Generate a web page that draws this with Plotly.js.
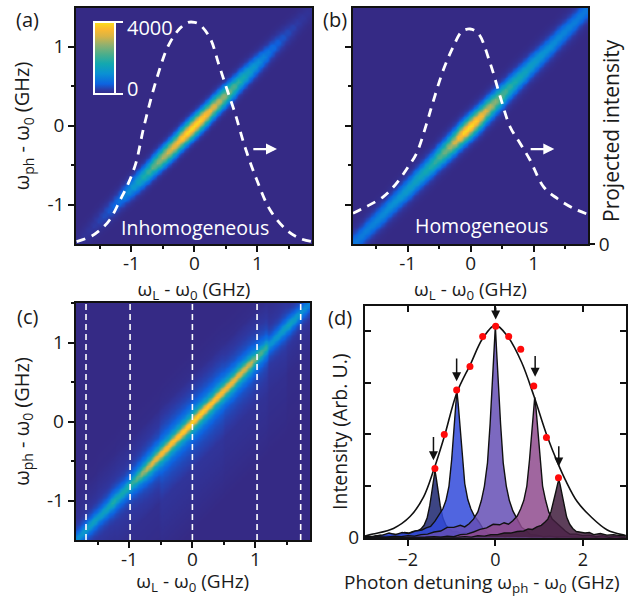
<!DOCTYPE html>
<html><head><meta charset="utf-8">
<script src="https://cdn.plot.ly/plotly-3.0.1.min.js"></script>
<style>html,body{margin:0;padding:0;background:#fff}#p{width:636px;height:596px}</style>
</head><body><div id="p"></div>
<script>
// --- heat-map ridges: intensity read along the diagonal of each map
const ridgeA=[80,100,130,170,220,290,370,470,590,730,900,1080,1290,1530,1800,2080,2380,2680,2950,3200,3420,3620,3850,3980,4000,3950,3780,3560,3320,3060,2780,2500,2230,1970,1720,1500,1300,1120,950,800,660,540,440,350,280,220,170,130,100];
const ridgeB=[800,830,860,900,940,980,1030,1080,1130,1190,1250,1320,1390,1470,1560,1680,1820,2000,2230,2500,2850,3250,3650,3950,4000,3850,3600,3300,3000,2700,2400,2150,1950,1780,1650,1530,1430,1340,1260,1190,1130,1070,1020,980,940,900,870,840,810];
const ridgeC=[1000,1150,1250,1350,1450,1300,1400,1500,1750,1550,1600,1700,1950,2300,2700,3050,3300,3400,3450,3500,3550,3600,3650,3700,3750,3750,3700,3650,3600,3550,3500,3450,3400,3300,3200,3100,2950,2400,2100,1850,1100,1150,1200,1300,1500,1350,1200,1050,950];
// cross-diagonal profiles, one entry per half grid step away from the ridge
const profileA=[1,.93,.76,.56,.37,.22,.11,.05,.02,.005];
const profileB=[1,.94,.78,.6,.42,.27,.16,.09,.05,.025,.01,.004];
const profileC=[1,.88,.62,.42,.3,.22,.16,.12,.09,.07,.06,.05,.04,.035,.03,.025,.02,.015,.01];
// panel (c): slowly varying pedestal per scan column
const pedestalC=[60,60,60,60,60,100,100,100,100,130,130,130,130,130,130,130,130,130,250,250,250,250,250,250,250,250,250,250,250,250,250,200,200,200,200,200,200,200,200,200,130,130,130,130,60,60,60,60,60];
const pedestalUp=[1,.95,.9,.85,.8,.7,.6,.5,.4,.3,.22,.15,.1,.06,.03,.01];
const pedestalDown=[1,.97,.95,.9,.88,.85,.8,.75,.7,.65,.6,.55,.5,.45,.4,.35,.3,.25,.2,.15,.1,.05];
// dashed projected-intensity curves
const curveAx=[-1.87,-1.63,-1.47,-1.34,-1.18,-1.05,-.93,-.8,-.6,-.41,-.23,-.1,0,.09,.25,.38,.51,.645,.8,.99,1.2,1.46,1.67,1.86];
const curveAy=[.01,.034,.066,.104,.186,.257,.343,.5,.7,.843,.914,.939,.939,.928,.871,.766,.66,.553,.412,.271,.144,.06,.024,.01];
const curveBx=[-1.87,-1.66,-1.39,-1.2,-.99,-.86,-.7,-.62,-.435,-.276,-.14,-.01,.12,.31,.47,.626,.785,.944,1.157,1.37,1.634,1.86];
const curveBy=[.13,.158,.2,.25,.328,.384,.51,.582,.737,.836,.9,.911,.893,.766,.624,.497,.427,.356,.243,.194,.151,.126];
// panel (c) laser positions
const laserLines=[-1.69,-.99,0,1.027,1.72];
// panel (d)
const envX=[-3,-2.8,-2.33,-1.95,-1.64,-1.41,-1.17,-.88,-.57,-.29,0,.29,.6,.88,1.17,1.44,1.6,1.87,2.18,2.56,2.94,3];
const envY=[.03,.07,.18,.41,.79,1.31,1.95,2.81,3.36,3.86,4.12,3.89,3.4,2.75,2,1.42,1.12,.7,.41,.15,.05,.04];
const dotX=[-1.382,-1.168,-.885,-.58,-.29,.008,.305,.58,.878,1.168,1.443];
const dotY=[1.34,2.0,2.86,3.32,3.9,4.1,3.9,3.65,2.94,1.94,1.16];
const arrowX=[-1.415,-.885,.008,.91,1.45];
const arrowTail=[1.98,3.5,4.49,3.55,1.8];
const arrowTip=[1.5,3.03,4.23,3.12,1.38];
const peakCenters=[-1.38,-.88,0,.9,1.45];
const offsets=[-4.6,-4.2,-3.9,-3.6,-3.3,-3.1,-2.9,-2.7,-2.5,-2.3,-2.15,-2,-1.85,-1.7,-1.55,-1.4,-1.25,-1.1,-.95,-.8,-.7,-.6,-.5,-.4,-.32,-.25,-.18,-.12,-.07,-.03,0,.03,.07,.12,.18,.25,.32,.4,.5,.6,.7,.8,.95,1.1,1.25,1.4,1.55,1.7,1.85,2,2.15,2.3,2.5,2.7,2.9,3.1,3.3,3.6,3.9,4.2,4.6];
const spec1=[0,0,0,0,0,0,0,0,0,0,0,0,0,.01,.03,.02,.05,.04,.07,.06,.1,.09,.12,.13,.17,.24,.38,.62,.9,1.15,1.3,1.15,.9,.62,.38,.24,.18,.12,.12,.08,.1,.06,.07,.05,.06,.03,.05,.02,.04,.02,.03,.01,.02,.01,.01,0,0,0,0,0,0];
const spec2=[0,0,0,0,0,0,0,0,0,0,.02,.01,.04,.05,.09,.06,.1,.08,.13,.15,.19,.22,.32,.44,.56,.72,1,1.5,2.1,2.6,2.85,2.6,2.15,1.55,1.05,.74,.56,.42,.31,.17,.09,.05,.05,.02,.04,.02,.03,.01,.02,.01,.01,.01,0,0,0,0,0,0,0,0,0];
const spec3=[0,0,0,0,0,0,.01,.02,.01,.03,.02,.04,.03,.06,.07,.11,.13,.2,.2,.24,.21,.27,.36,.5,.72,1,1.45,2.2,2.95,3.6,4.1,3.6,2.95,2.2,1.45,1,.72,.52,.36,.2,.14,.06,.05,.02,.03,.01,.02,.01,0,0,0,0,0,0,0,0,0,0,0,0,0];
const spec4=[0,0,0,0,0,0,0,0,.01,.02,.01,.03,.02,.06,.07,.11,.16,.19,.26,.25,.29,.26,.33,.42,.56,.72,1,1.5,2.05,2.5,2.72,2.5,2.05,1.5,1,.72,.5,.36,.28,.2,.13,.07,.07,.04,.05,.02,.04,.01,.03,.01,.02,0,0,0,0,0,0,0,0,0,0];
const spec5=[0,0,0,0,0,0,0,0,0,.01,.02,.01,.04,.03,.06,.06,.09,.09,.12,.13,.17,.16,.21,.24,.3,.36,.5,.68,.88,1.03,1.13,1.03,.85,.62,.4,.26,.18,.12,.11,.09,.1,.06,.08,.05,.06,.04,.04,.02,.02,.01,0,0,0,0,0,0,0,0,0,0,0];
const specColors=['rgba(27,36,111,.85)','rgba(49,74,219,.85)','rgba(101,79,181,.85)','rgba(143,75,142,.85)','rgba(65,29,61,.85)'];
// tick labels
const heatTicks=[-1,0,1], heatLabels=['-1','0','1'], heatMinor=[-1.5,-.5,.5,1.5];
const dTicks=[-2,0,2], dLabels=['\u22122','0','2'];
const dYTicks=[0,1,2,3,4], dYLabels=['0','','','',''];
const colorStops=[[0,'#352a85'],[.05,'#2f37a0'],[.14,'#0d63e0'],[.28,'#0a90d4'],[.42,'#12a8b0'],[.55,'#4aae8c'],[.68,'#8fb070'],[.8,'#d8b445'],[.9,'#fdb92f'],[1,'#fae01c']];

const W=636,H=596,FONT='"Open Sans","Noto Sans",sans-serif',TXT='#1a1a1a';
const dx=(l,r)=>[l/W,r/W], dy=(t,b)=>[1-b/H,1-t/H];
const N=ridgeA.length,S=2,M=(N-1)*S+1;
function simpleMap(r,p){const z=[];for(let j=0;j<M;j++){const row=[];for(let i=0;i<M;i++){const d=Math.abs(i-j);row.push(d<p.length?r[Math.round((i+j)/2/S)]*p[d]:0);}z.push(row);}return z;}
function mapC(){const z=[];for(let j=0;j<M;j++){const row=[];for(let i=0;i<M;i++){const d=Math.abs(i-j),h=Math.floor(d/S),col=Math.round(i/S);const b=j<i?pedestalDown:pedestalUp;
 row.push((d<profileC.length?ridgeC[col]*profileC[d]:0)+(h<b.length?pedestalC[col]*b[h]:0));}z.push(row);}return z;}
function heat(z,x0,x1,y0,y1,xa,ya,extra){return Object.assign({type:'heatmap',z,x0,dx:(x1-x0)/(M-1),y0,dy:(y1-y0)/(M-1),xaxis:xa,yaxis:ya,zmin:0,zmax:4000,zsmooth:'best',colorscale:colorStops,showscale:false,hoverinfo:'skip'},extra||{});}
const heatAxisX=(d,r,standoff)=>({domain:d,range:r,tickmode:'array',tickvals:heatTicks,ticktext:heatLabels,ticks:'outside',ticklen:6,tickwidth:1.5,tickcolor:'#111',ticklabelstandoff:-5,showline:true,linecolor:'#111',linewidth:1.5,mirror:true,showgrid:false,zeroline:false,tickfont:{size:19,color:TXT},minor:{tickvals:heatMinor,ticks:'outside',ticklen:3,tickwidth:1.5,tickcolor:'#111',showgrid:false},title:{text:'ω<sub>L</sub> - ω<sub>0</sub> (GHz)',font:{size:19,color:TXT},standoff}});
const heatAxisY=(d,r,anchor,labels,title)=>({domain:d,range:r,anchor,tickmode:'array',tickvals:heatTicks,ticktext:heatLabels,showticklabels:labels,ticks:'outside',ticklen:6,tickwidth:1.5,tickcolor:'#111',showline:true,linecolor:'#111',linewidth:1.5,mirror:true,showgrid:false,zeroline:false,tickfont:{size:19,color:TXT},minor:{tickvals:heatMinor,ticks:'outside',ticklen:3,tickwidth:1.5,tickcolor:'#111',showgrid:false},title:title?{text:'ω<sub>ph</sub> - ω<sub>0</sub> (GHz)',font:{size:20,color:TXT},standoff:12}:undefined});

const traces=[
 heat(simpleMap(ridgeA,profileA),-1.88,1.865,-1.497,1.49,'x','y',{showscale:true,colorbar:{x:94/W,xanchor:'left',y:1-94/H,yanchor:'bottom',len:72.3/H,lenmode:'fraction',thickness:21,thicknessmode:'pixels',xpad:0,ypad:0,outlinecolor:'#fff',outlinewidth:2,ticks:'outside',ticklen:7,tickcolor:'#fff',tickwidth:2,tickmode:'array',tickvals:[0,4000],showticklabels:false}}),
 {type:'scatter',mode:'lines',x:curveAx,y:curveAy,xaxis:'x',yaxis:'y2',line:{color:'#fff',width:2.8,dash:'9px,7px',shape:'spline'},hoverinfo:'skip'},
 heat(simpleMap(ridgeB,profileB),-1.87,1.865,-1.497,1.49,'x2','y3'),
 {type:'scatter',mode:'lines',x:curveBx,y:curveBy,xaxis:'x2',yaxis:'y4',line:{color:'#fff',width:2.8,dash:'9px,7px',shape:'spline'},hoverinfo:'skip'},
 heat(mapC(),-1.857,1.868,-1.497,1.5,'x3','y5')
];
laserLines.forEach(v=>traces.push({type:'scatter',mode:'lines',x:[v,v],y:[-1.497,1.5],xaxis:'x3',yaxis:'y5',line:{color:'#fff',width:1.6,dash:'6px,4px'},hoverinfo:'skip'}));
[spec1,spec2,spec3,spec4,spec5].forEach((s,k)=>traces.push({type:'scatter',mode:'lines',x:offsets.map(o=>o+peakCenters[k]),y:s,xaxis:'x4',yaxis:'y6',fill:'tozeroy',fillcolor:specColors[k],line:{color:'#111',width:1.4},hoverinfo:'skip'}));
traces.push({type:'scatter',mode:'lines',x:envX,y:envY,xaxis:'x4',yaxis:'y6',line:{color:'#111',width:1.6,shape:'spline'},hoverinfo:'skip'});
traces.push({type:'scatter',mode:'markers',x:dotX,y:dotY,xaxis:'x5',yaxis:'y6',marker:{color:'#ff0a0a',size:7},cliponaxis:false,hoverinfo:'skip'});

const ann=[];
const pxText=(t,x,y,size,color,extra)=>Object.assign({text:t,xref:'paper',yref:'paper',x:x/W,y:1-y/H,xanchor:'center',yanchor:'middle',showarrow:false,font:{size,color,family:FONT}},extra||{});
ann.push(pxText('(a)',28,20,20,TXT),pxText('(b)',335,20,20,TXT),pxText('(c)',27,316,20,TXT),pxText('(d)',340,318,20,TXT));
ann.push(pxText('Inhomogeneous',195,227,19.5,'#fff'),pxText('Homogeneous',481.5,226,19.5,'#fff'));
ann.push(pxText('4000',150,27,20,'#fff'),pxText('0',132,88,20,'#fff'));
ann.push(pxText('Intensity (Arb. U.)',339,432,19.5,TXT,{textangle:-90}));
ann.push(pxText('Projected intensity',611,131,21,TXT,{textangle:-90}));
ann.push(pxText('Photon detuning ω<sub>ph</sub> - ω<sub>0</sub> (GHz)',482,583,19,TXT));
ann.push({x:1.31,y:-.295,ax:.91,ay:-.295,xref:'x',yref:'y',axref:'x',ayref:'y',showarrow:true,arrowhead:2,arrowsize:1,arrowwidth:2.2,arrowcolor:'#fff',text:''});
ann.push({x:1.33,y:-.295,ax:.93,ay:-.295,xref:'x2',yref:'y3',axref:'x2',ayref:'y3',showarrow:true,arrowhead:2,arrowsize:1,arrowwidth:2.2,arrowcolor:'#fff',text:''});
arrowX.forEach((v,k)=>ann.push({x:v,y:arrowTip[k],ax:v,ay:arrowTail[k],xref:'x4',yref:'y6',axref:'x4',ayref:'y6',showarrow:true,arrowhead:2,arrowsize:1.2,arrowwidth:1.5,arrowcolor:'#111',text:''}));

const layout={width:W,height:H,margin:{l:0,r:0,t:0,b:0,pad:0,autoexpand:false},paper_bgcolor:'#fff',plot_bgcolor:'#fff',showlegend:false,font:{family:FONT,color:TXT},annotations:ann,
 xaxis:heatAxisX(dx(76,312),[-1.88,1.865],0),
 yaxis:heatAxisY(dy(8,244),[-1.497,1.49],'x',true,true),
 yaxis2:{overlaying:'y',side:'right',range:[0,1],visible:false,anchor:'x'},
 xaxis2:Object.assign(heatAxisX(dx(353,588),[-1.87,1.865],0),{anchor:'y3'}),
 yaxis3:heatAxisY(dy(8,244),[-1.497,1.49],'x2',false,false),
 yaxis4:{overlaying:'y3',side:'right',anchor:'x2',range:[0,1],tickmode:'array',tickvals:[0],ticktext:['0'],ticks:'outside',ticklen:6,tickwidth:1.5,tickcolor:'#111',showline:false,showgrid:false,zeroline:false,tickfont:{size:19,color:TXT}},
 xaxis3:Object.assign(heatAxisX(dx(75.5,310),[-1.857,1.868],8),{anchor:'y5'}),
 yaxis5:heatAxisY(dy(303,540),[-1.497,1.5],'x3',true,true),
 xaxis4:{domain:dx(365,625.7),range:[-2.98,2.98],anchor:'y6',tickmode:'array',tickvals:dTicks,ticktext:dLabels,ticks:'outside',ticklen:6,tickwidth:1.5,tickcolor:'#111',showline:true,linecolor:'#111',linewidth:2,showgrid:false,zeroline:false,tickfont:{size:18,color:TXT},ticklabelstandoff:-1},
 xaxis5:{overlaying:'x4',side:'top',anchor:'y6',range:[-2.98,2.98],tickmode:'array',tickvals:dTicks,ticktext:['','',''],ticks:'inside',ticklen:6,tickwidth:1.5,tickcolor:'#111',showline:true,linecolor:'#111',linewidth:2,showgrid:false,zeroline:false},
 yaxis6:{domain:dy(306,537.7),range:[0,4.49],anchor:'x4',tickmode:'array',tickvals:dYTicks,ticktext:dYLabels,ticks:'inside',ticklen:6,tickwidth:1.5,tickcolor:'#111',showline:true,linecolor:'#111',linewidth:2,mirror:'ticks',showgrid:false,zeroline:false,tickfont:{size:19,color:TXT}}
};
Plotly.newPlot('p',traces,layout,{displayModeBar:false,responsive:false});
</script></body></html>
